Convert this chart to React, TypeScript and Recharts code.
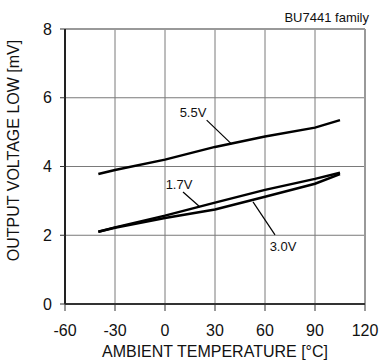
import React from "react";
import {
  LineChart,
  Line,
  XAxis,
  YAxis,
  CartesianGrid,
  ReferenceLine,
  ReferenceDot,
} from "recharts";

const temps = [-40, -30, 0, 30, 60, 90, 105];
const v55 = [3.78, 3.9, 4.2, 4.57, 4.87, 5.13, 5.35];
const v17 = [2.1, 2.23, 2.57, 2.95, 3.32, 3.64, 3.82];
const v30 = [2.1, 2.22, 2.5, 2.75, 3.12, 3.5, 3.78];

const xTicks = [-60, -30, 0, 30, 60, 90, 120];
const yTicks = [0, 2, 4, 6, 8];

const data = temps.map((t, i) => ({
  t,
  v55: v55[i],
  v17: v17[i],
  v30: v30[i],
}));

const FONT = "'Liberation Sans', Arial, sans-serif";

const YLabel = (props: any) => {
  const vb = props.viewBox;
  const x = 13;
  const y = vb.y + vb.height / 2 - 16;
  return (
    <text
      x={x}
      y={y}
      transform={`rotate(-90, ${x}, ${y})`}
      textAnchor="middle"
      dominantBaseline="central"
      fontSize={16}
      fontFamily={FONT}
      fill="#111"
    >
      OUTPUT VOLTAGE LOW [mV]
    </text>
  );
};

const XLabel = (props: any) => {
  const vb = props.viewBox;
  return (
    <text
      x={vb.x + vb.width / 2}
      y={357}
      textAnchor="middle"
      fontSize={16}
      fontFamily={FONT}
      fill="#111"
    >
      AMBIENT TEMPERATURE [°C]
    </text>
  );
};

const seriesLabel = (text: string) => ({
  value: text,
  position: "center" as const,
  fontSize: 13,
  fontFamily: FONT,
  fill: "#111",
});

export default function App() {
  return (
    <div
      style={{
        position: "absolute",
        left: 0,
        top: 0,
        width: 379,
        height: 362,
        background: "#fff",
        fontFamily: FONT,
      }}
    >
      <div
        style={{
          position: "absolute",
          right: 10,
          top: 10,
          fontSize: 13,
          color: "#111",
        }}
      >
        BU7441 family
      </div>
      <LineChart
        width={379}
        height={362}
        data={data}
        margin={{ top: 29, right: 14, left: 0, bottom: 0 }}
      >
        <CartesianGrid stroke="#7a7a7a" strokeWidth={1} />
        <XAxis
          dataKey="t"
          type="number"
          domain={[-60, 120]}
          ticks={xTicks}
          height={58}
          tickSize={7}
          tickMargin={14}
          axisLine={{ stroke: "#333", strokeWidth: 2 }}
          tickLine={{ stroke: "#333" }}
          tick={{ fill: "#111", fontSize: 16, fontFamily: FONT }}
          label={<XLabel />}
        />
        <YAxis
          type="number"
          domain={[0, 8]}
          ticks={yTicks}
          width={65}
          tickSize={5}
          tickMargin={8}
          axisLine={{ stroke: "#222", strokeWidth: 2 }}
          tickLine={{ stroke: "#333" }}
          tick={{ fill: "#111", fontSize: 16, fontFamily: FONT }}
          label={<YLabel />}
        />
        <ReferenceLine y={8} stroke="#999" strokeWidth={2} />
        <ReferenceLine x={120} stroke="#999" strokeWidth={2} />
        <Line
          dataKey="v55"
          stroke="#000"
          strokeWidth={2.5}
          dot={false}
          isAnimationActive={false}
        />
        <Line
          dataKey="v17"
          stroke="#000"
          strokeWidth={2.5}
          dot={false}
          isAnimationActive={false}
        />
        <Line
          dataKey="v30"
          stroke="#000"
          strokeWidth={2.5}
          dot={false}
          isAnimationActive={false}
        />
        <ReferenceLine
          segment={[
            { x: 25, y: 5.35 },
            { x: 40, y: 4.65 },
          ]}
          stroke="#000"
          strokeWidth={1.2}
        />
        <ReferenceLine
          segment={[
            { x: 10.8, y: 3.26 },
            { x: 21, y: 2.82 },
          ]}
          stroke="#000"
          strokeWidth={1.2}
        />
        <ReferenceLine
          segment={[
            { x: 52.8, y: 2.97 },
            { x: 66, y: 2.01 },
          ]}
          stroke="#000"
          strokeWidth={1.2}
        />
        <ReferenceDot
          x={16.8}
          y={5.56}
          r={0}
          fill="none"
          stroke="none"
          label={seriesLabel("5.5V")}
        />
        <ReferenceDot
          x={8.4}
          y={3.49}
          r={0}
          fill="none"
          stroke="none"
          label={seriesLabel("1.7V")}
        />
        <ReferenceDot
          x={70.8}
          y={1.69}
          r={0}
          fill="none"
          stroke="none"
          label={seriesLabel("3.0V")}
        />
      </LineChart>
    </div>
  );
}
